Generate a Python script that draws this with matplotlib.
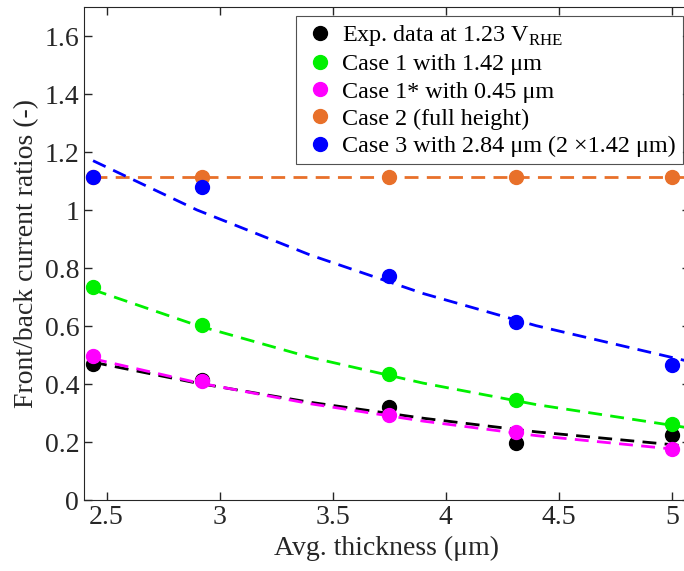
import matplotlib
matplotlib.use("Agg")
import matplotlib.pyplot as plt

plt.rcParams["font.family"] = ["Liberation Serif", "DejaVu Serif"]
plt.rcParams["mathtext.fontset"] = "custom"
plt.rcParams["mathtext.rm"] = "Liberation Serif"

# measured points
thickness = [2.44, 2.92, 3.75, 4.31, 5.0]
exp_data = [0.47, 0.415, 0.32, 0.197, 0.225]
case1 = [0.733, 0.605, 0.436, 0.346, 0.263]
case1s = [0.495, 0.41, 0.294, 0.235, 0.176]
case2 = [1.113, 1.113, 1.113, 1.113, 1.113]
case3 = [1.115, 1.08, 0.772, 0.613, 0.464]

# dashed fit curves
fit_x = [2.44, 2.9, 3.4, 3.9, 4.4, 5.08]
fit_exp = [0.475, 0.403, 0.337, 0.282, 0.235, 0.185]
fit_case1 = [0.725, 0.602, 0.492, 0.403, 0.329, 0.248]
fit_case1s = [0.487, 0.405, 0.332, 0.272, 0.222, 0.170]
fit_case2 = [1.113, 1.113, 1.113, 1.113, 1.113, 1.113]
fit_case3 = [1.17, 1.0, 0.845, 0.712, 0.601, 0.477]

labels = [
    r"Exp. data at 1.23 V$_{\mathrm{RHE}}$",
    "Case 1 with 1.42 \u03bcm",
    "Case 1* with 0.45 \u03bcm",
    "Case 2 (full height)",
    "Case 3 with 2.84 \u03bcm (2 \u00d71.42 \u03bcm)",
]
colors = ["#000000", "#00f000", "#ff00ff", "#e8702a", "#0000ff"]

xticks = [2.5, 3, 3.5, 4, 4.5, 5]
xticklabels = ["2.5", "3", "3.5", "4", "4.5", "5"]
yticks = [0, 0.2, 0.4, 0.6, 0.8, 1, 1.2, 1.4, 1.6]
yticklabels = ["0", "0.2", "0.4", "0.6", "0.8", "1", "1.2", "1.4", "1.6"]

fig = plt.figure(figsize=(6.84, 5.71), dpi=100)
# axes runs slightly past the right edge, as in the original crop
ax = fig.add_axes([84 / 684, 71 / 571, 606 / 684, 493 / 571])

fits = [fit_exp, fit_case1, fit_case1s, fit_case2, fit_case3]
points = [exp_data, case1, case1s, case2, case3]

for f, c in zip(fits, colors):
    ax.plot(fit_x, f, linestyle=(0, (5, 3)), color=c, linewidth=2)

for p, c, lab in zip(points, colors, labels):
    ax.plot(thickness, p, "o", color=c, markersize=10, label=lab)

ax.set_xlim(2.4, 5.08)
ax.set_ylim(0, 1.7)
ax.set_xticks(xticks)
ax.set_xticklabels(xticklabels)
ax.set_yticks(yticks)
ax.set_yticklabels(yticklabels)
ax.tick_params(direction="in", top=True, right=True, labelsize=20,
               length=6, width=1, colors="#262626")
for sp in ax.spines.values():
    sp.set_color("#262626")

ax.set_xlabel("Avg. thickness (\u03bcm)", fontsize=20, color="#262626")
ax.set_ylabel("Front/back current ratios (-)", fontsize=20, color="#262626")

leg = ax.legend(loc="upper right", bbox_to_anchor=(683 / 684, 1 - 16 / 571),
                bbox_transform=fig.transFigure, borderaxespad=0,
                fontsize=17.4, frameon=True, fancybox=False,
                handletextpad=0.2, handlelength=1.4, labelspacing=0.22,
                borderpad=0.3)
leg.get_frame().set_edgecolor("#262626")
leg.get_frame().set_linewidth(0.8)

fig.savefig("out.png", dpi=100)
